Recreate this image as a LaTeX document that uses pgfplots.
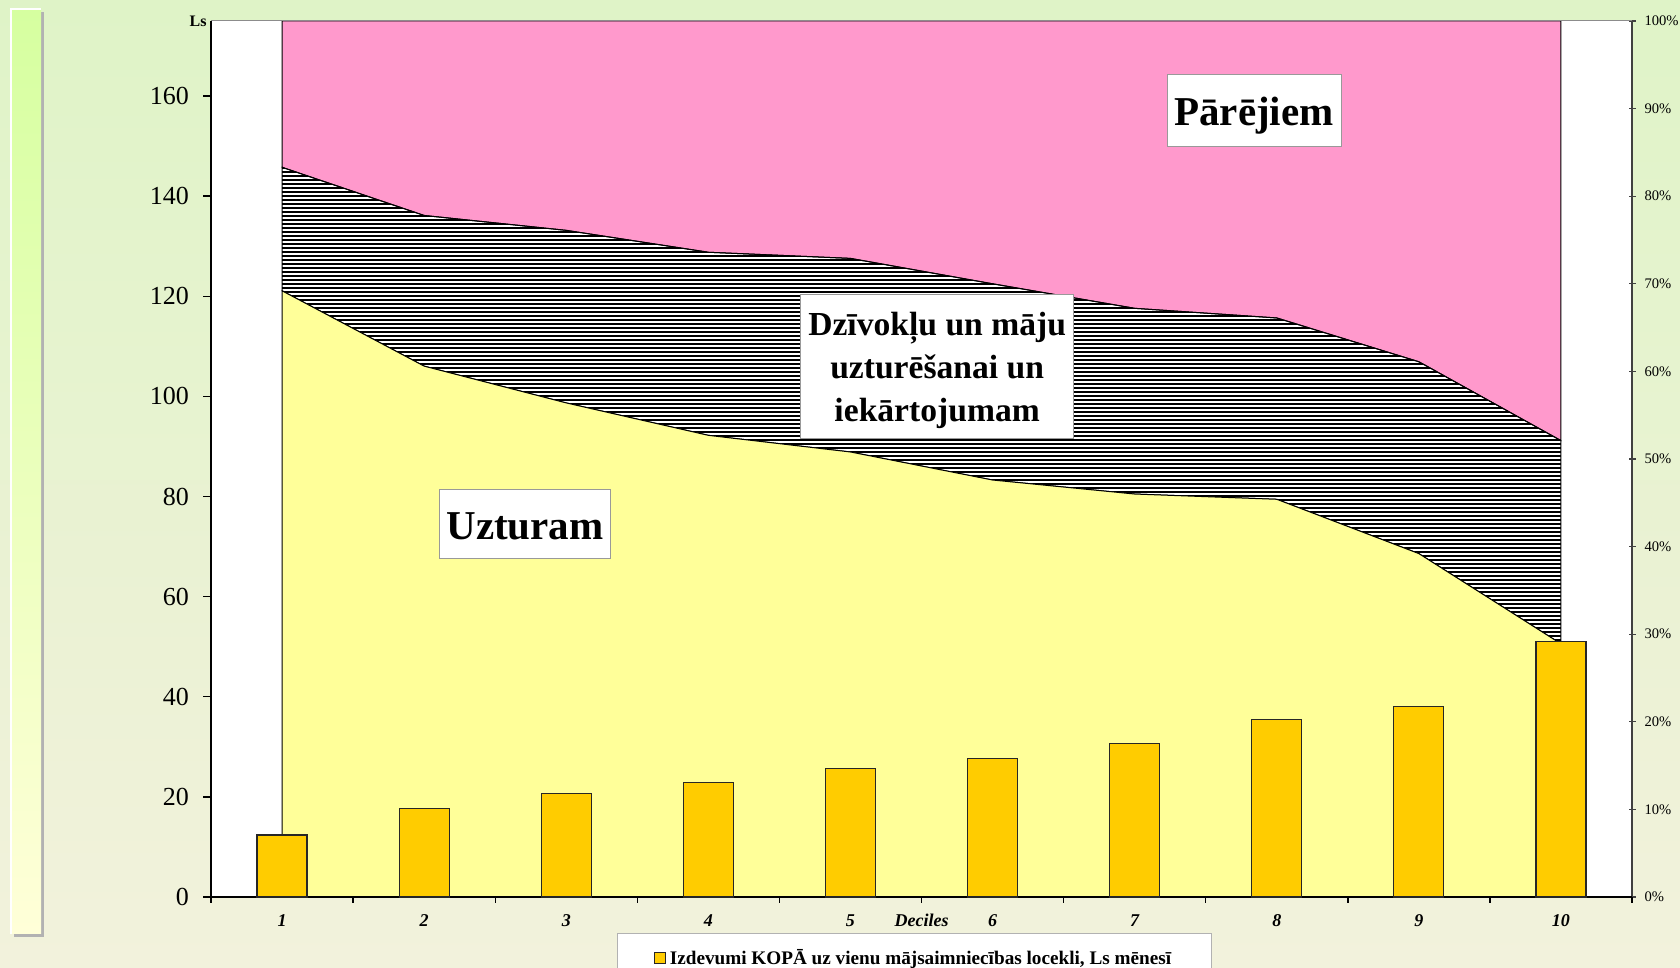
\documentclass[border=0pt]{standalone}
\usepackage{fontspec}
\setmainfont{Liberation Serif}
\usepackage{pgfplots}
\pgfplotsset{compat=1.18}
\usetikzlibrary{patterns.meta}
\definecolor{bgTop}{HTML}{DFF3C7}
\definecolor{bgBot}{HTML}{F2F2DC}
\definecolor{stripTop}{HTML}{D6FFA0}
\definecolor{stripBot}{HTML}{FFFFD8}
\definecolor{uzYellow}{HTML}{FFFF99}
\definecolor{restPink}{HTML}{FF99CC}
\definecolor{barGold}{HTML}{FFCC00}
\pgfplotsset{
  chart frame/.style={
    at={(105.5pt,35.5pt)}, anchor=south west,
    scale only axis, width=710.5pt, height=438pt,
    xmin=0.5, xmax=10.5, clip=false,
    /pgf/number format/assume math mode=true,
  },
}
\tikzset{area box/.style={draw=black!40, fill=white, inner sep=0pt}}

\begin{document}
\begin{tikzpicture}
  \useasboundingbox (0,0) rectangle (840pt,484pt);
  \shade[top color=bgTop, bottom color=bgBot] (0,0) rectangle (840pt,484pt);
  % decorative strip at the left
  \fill[black!30] (7pt,15.5pt) rectangle (22pt,478pt);
  \shade[top color=stripTop, bottom color=stripBot] (5.5pt,17pt) rectangle (20.5pt,479.5pt);
  \draw[white, line width=1.2pt] (5.5pt,17pt) -- (5.5pt,479.5pt) -- (20.5pt,479.5pt);

  % ---- shares (right axis, 100% stacked areas) ----
  \begin{axis}[
    chart frame,
    ymin=0, ymax=100,
    axis x line=none, axis y line*=right,
    axis background/.style={fill=white},
    y axis line style={black!75, line width=0.6pt},
    ytick={0,10,...,100},
    yticklabel={\pgfmathprintnumber{\tick}\%},
    yticklabel style={font=\fontsize{7.3}{8}\selectfont, xshift=1pt},
    ytick style={black!75, line width=0.6pt},
    tick align=center, major tick length=3.5pt,
    stack plots=y,
  ]
    \addplot[fill=uzYellow, draw=black, line width=0.5pt] coordinates {
      (1,69.2) (2,60.6) (3,56.4) (4,52.7) (5,50.8)
      (6,47.6) (7,46.0) (8,45.4) (9,39.2) (10,28.9)
    } \closedcycle;
    \addplot[pattern={Lines[angle=0,distance=2pt,line width=1pt]}, pattern color=black,
      draw=black, line width=0.5pt] coordinates {
      (1,14.1) (2,17.2) (3,19.7) (4,20.9) (5,22.1)
      (6,22.4) (7,21.2) (8,20.7) (9,21.9) (10,23.2)
    } \closedcycle;
    \addplot[fill=restPink, draw=black, line width=0.5pt] coordinates {
      (1,16.7) (2,22.2) (3,23.9) (4,26.4) (5,27.1)
      (6,30.0) (7,32.8) (8,33.9) (9,38.9) (10,47.9)
    } \closedcycle;
  \end{axis}

  % ---- total spending per household member (left axis, Ls) ----
  \begin{axis}[
    chart frame,
    ymin=0, ymax=175,
    axis y line*=left, axis x line*=bottom,
    axis line style={black, line width=0.7pt},
    ytick={0,20,...,160},
    yticklabel style={font=\fontsize{13}{15}\selectfont, xshift=-3.5pt},
    ytick style={black, line width=0.7pt},
    xtick={1,...,10},
    minor xtick={0.5,1.5,...,10.5},
    major x tick style={draw=none},
    minor x tick style={black, line width=0.7pt},
    tick align=outside, major tick length=4pt, minor tick length=3pt,
    xticklabel style={font=\bfseries\itshape\fontsize{9}{10}\selectfont, anchor=base, yshift=-10.7pt},
    ybar, bar width=0.352,
    legend style={at={(0.495,-0.041)}, anchor=north, draw=black!30, fill=white,
      font=\bfseries\fontsize{9.6}{11}\selectfont, inner xsep=18pt, inner ysep=6pt},
    legend image code/.code={\draw[#1, line width=0.5pt] (0pt,-2.8pt) rectangle (5.6pt,2.8pt);},
  ]
    \addplot[fill=barGold, draw=black!85, line width=0.6pt] coordinates {
      (1,12.4) (2,17.6) (3,20.6) (4,22.9) (5,25.7)
      (6,27.6) (7,30.6) (8,35.5) (9,38.1) (10,51.0)
    };
    \addlegendentry{Izdevumi KOPĀ uz vienu mājsaimniecības locekli, Ls mēnesī}
    \draw[black!45, line width=0.5pt] (rel axis cs:0,1) -- (rel axis cs:1,1);
    % labels of the three shares (y in Ls: 100% = 175)
    \node[area box, font=\bfseries\fontsize{20.5}{24}\selectfont,
      minimum width=87pt, minimum height=36pt, text height=20pt, text depth=4.5pt]
      at (axis cs:7.84,157.2) {Pārējiem};
    \node[area box, font=\bfseries\fontsize{20.5}{24}\selectfont,
      minimum width=85.5pt, minimum height=34.5pt, text height=20pt, text depth=4.5pt]
      at (axis cs:2.71,74.6) {Uzturam};
    \node[area box, minimum width=136.5pt, minimum height=72pt]
      at (axis cs:5.61,105.9) {};
    \node[font=\bfseries\fontsize{16.8}{21.4}\selectfont, align=center, inner sep=0pt, yshift=-1.8pt]
      at (axis cs:5.61,105.9) {Dzīvokļu un māju\\uzturēšanai un\\iekārtojumam};
    \node[font=\bfseries\itshape\fontsize{9}{10}\selectfont, anchor=base, yshift=-15pt]
      at (axis cs:5.5,0) {Deciles};
    \node[font=\bfseries\fontsize{8}{9}\selectfont, anchor=east, inner sep=0pt]
      at ([xshift=-2pt,yshift=0pt]rel axis cs:0,1) {Ls};
  \end{axis}
\end{tikzpicture}
\end{document}
